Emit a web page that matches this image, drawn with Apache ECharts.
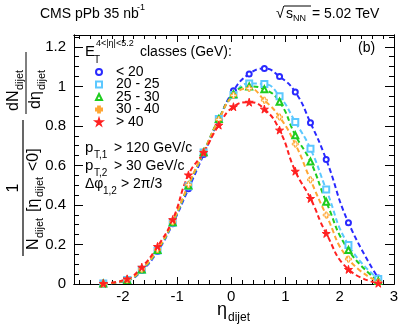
<!DOCTYPE html>
<html>
<head>
<meta charset="utf-8">
<script src="https://cdn.jsdelivr.net/npm/echarts@6/dist/echarts.min.js"></script>
<style>
  html, body { margin: 0; padding: 0; background: #fff; }
  #chart { width: 407px; height: 335px; }
</style>
</head>
<body>
<div id="chart"></div>
<script>
// eta_dijet bin positions
var etaBins = [-2.36, -1.92, -1.65, -1.36, -1.08, -0.79, -0.51, -0.23, 0.04, 0.33, 0.61, 0.89, 1.18, 1.46, 1.75, 2.16, 2.71];
// normalised dN/deta per E_T(4<|eta|<5.2) class
var etLt20 = [0.002, 0.018, 0.068, 0.165, 0.305, 0.482, 0.655, 0.832, 0.978, 1.063, 1.09, 1.05, 0.971, 0.816, 0.63, 0.31, 0.03];
var et20to25 = [0.002, 0.02, 0.072, 0.17, 0.31, 0.495, 0.665, 0.835, 0.956, 1.015, 1.012, 0.95, 0.82, 0.684, 0.478, 0.197, 0.025];
var et25to30 = [0.002, 0.02, 0.073, 0.172, 0.312, 0.498, 0.667, 0.835, 0.96, 1.0, 0.985, 0.922, 0.753, 0.62, 0.416, 0.172, 0.015];
var et30to40 = [0.002, 0.021, 0.075, 0.175, 0.315, 0.502, 0.668, 0.832, 0.955, 0.99, 0.93, 0.845, 0.708, 0.527, 0.349, 0.126, 0.01];
var etGt40 = [0.003, 0.026, 0.085, 0.19, 0.326, 0.552, 0.666, 0.804, 0.897, 0.92, 0.885, 0.779, 0.571, 0.433, 0.256, 0.074, 0.004];
var classNames = ['< 20', '20 - 25', '25 - 30', '30 - 40', '> 40'];

// tick positions
var xMajor = [-2, -1, 0, 1, 2, 3];
var xMinor = [-2.8, -2.6, -2.4, -2.2, -1.8, -1.6, -1.4, -1.2, -0.8, -0.6, -0.4, -0.2, 0.2, 0.4, 0.6, 0.8, 1.2, 1.4, 1.6, 1.8, 2.2, 2.4, 2.6, 2.8];
var yMajor = [0, 0.2, 0.4, 0.6, 0.8, 1, 1.2];
var yMinor = [0.05, 0.1, 0.15, 0.25, 0.3, 0.35, 0.45, 0.5, 0.55, 0.65, 0.7, 0.75, 0.85, 0.9, 0.95, 1.05, 1.1, 1.15, 1.25];

var FONT = '"Liberation Sans", Arial, Helvetica, sans-serif';
var starPath = 'path://M50,0 L61,35 L98,35 L68,57 L79,91 L50,70 L21,91 L32,57 L2,35 L39,35 Z';
var crossPath = 'path://M35,0 L65,0 L65,35 L100,35 L100,65 L65,65 L65,100 L35,100 L35,65 L0,65 L0,35 L35,35 Z';

var chart = echarts.init(document.getElementById('chart'), null, { renderer: 'canvas' });

function pairs(vals) {
  return etaBins.map(function (x, i) { return [x, vals[i]]; });
}

function xAxisDef(pos, ticks, len, withLabels) {
  return {
    type: 'value', min: -2.9, max: 3, position: pos,
    axisLine: { show: true, onZero: false, lineStyle: { color: '#000', width: 1 } },
    axisTick: { show: true, inside: true, length: len, customValues: ticks, lineStyle: { color: '#000', width: 1 } },
    axisLabel: { show: withLabels, customValues: ticks, margin: 5, fontSize: 15, color: '#000', fontFamily: FONT },
    splitLine: { show: false }
  };
}
function yAxisDef(pos, ticks, len, withLabels) {
  return {
    type: 'value', min: 0, max: 1.26, position: pos,
    axisLine: { show: true, onZero: false, lineStyle: { color: '#000', width: 1 } },
    axisTick: { show: true, inside: true, length: len, customValues: ticks, lineStyle: { color: '#000', width: 1 } },
    axisLabel: { show: withLabels, customValues: ticks, margin: 8, fontSize: 15, color: '#000', fontFamily: FONT },
    splitLine: { show: false }
  };
}

function lineSeries(name, vals, color, symbol, size, fill) {
  return {
    name: name, type: 'line', data: pairs(vals),
    smooth: 0.5,
    symbol: symbol, symbolSize: size,
    itemStyle: { color: fill || color, borderColor: color, borderWidth: 1 },
    lineStyle: { color: color, width: 2, type: [5, 3] },
    emphasis: { disabled: true },
    animation: false
  };
}

chart.setOption({
  animation: false,
  grid: { left: 74, top: 35, width: 320, height: 249 },
  xAxis: [
    xAxisDef('bottom', xMajor, 7, true),
    xAxisDef('bottom', xMinor, 4, false),
    xAxisDef('top', xMajor, 7, false),
    xAxisDef('top', xMinor, 4, false)
  ],
  yAxis: [
    yAxisDef('left', yMajor, 9, true),
    yAxisDef('left', yMinor, 5, false),
    yAxisDef('right', yMajor, 9, false),
    yAxisDef('right', yMinor, 5, false)
  ],
  legend: {
    orient: 'vertical', left: 95, top: 65, padding: 0,
    itemWidth: 6, itemHeight: 6, itemGap: -1.5,
    textStyle: { fontSize: 14, lineHeight: 12, color: '#000', fontFamily: FONT, padding: [0, 0, 0, 9] },
    data: [
      { name: classNames[0], icon: 'emptyCircle' },
      { name: classNames[1], icon: 'emptyRect' },
      { name: classNames[2], icon: 'emptyTriangle' },
      { name: classNames[3], icon: crossPath },
      { name: classNames[4], icon: starPath }
    ]
  },
  series: [
    lineSeries(classNames[0], etLt20, '#2a2aff', 'emptyCircle', 5),
    lineSeries(classNames[1], et20to25, '#5cc8ff', 'emptyRect', 6),
    lineSeries(classNames[2], et25to30, '#1fcc1f', 'emptyTriangle', 6),
    lineSeries(classNames[3], et30to40, '#ffa633', crossPath, 6, '#fff'),
    lineSeries(classNames[4], etGt40, '#ff2020', starPath, 8)
  ],
  graphic: [
    // header
    { type: 'text', x: 40, y: 14, style: { text: 'CMS pPb 35 nb', font: '14px ' + FONT, fill: '#000', verticalAlign: 'middle' } },
    { type: 'text', x: 137, y: 8, style: { text: '-1', font: '9px ' + FONT, fill: '#000', verticalAlign: 'middle' } },
    { type: 'text', x: 276, y: 14, style: { text: '√', font: '15px ' + FONT, fill: '#000', verticalAlign: 'middle' } },
    { type: 'line', shape: { x1: 284, y1: 6, x2: 311, y2: 6 }, style: { stroke: '#000', lineWidth: 1 } },
    { type: 'text', x: 286, y: 14, style: { text: 's', font: '14px ' + FONT, fill: '#000', verticalAlign: 'middle' } },
    { type: 'text', x: 293, y: 19, style: { text: 'NN', font: '9px ' + FONT, fill: '#000', verticalAlign: 'middle' } },
    { type: 'text', x: 312, y: 14, style: { text: '= 5.02 TeV', font: '14px ' + FONT, fill: '#000', verticalAlign: 'middle' } },
    // legend header
    { type: 'text', x: 85, y: 52, style: { text: 'E', font: '15px ' + FONT, fill: '#000', verticalAlign: 'middle' } },
    { type: 'text', x: 94, y: 60, style: { text: 'T', font: '10px ' + FONT, fill: '#000', verticalAlign: 'middle' } },
    { type: 'text', x: 96, y: 44, style: { text: '4<|η|<5.2', font: '9px ' + FONT, fill: '#000', verticalAlign: 'middle' } },
    { type: 'text', x: 140, y: 52, style: { text: 'classes (GeV):', font: '14px ' + FONT, fill: '#000', verticalAlign: 'middle' } },
    // panel tag
    { type: 'text', x: 358, y: 48, style: { text: '(b)', font: '14px ' + FONT, fill: '#000', verticalAlign: 'middle' } },
    // cuts
    { type: 'text', x: 85, y: 148, style: { text: 'p', font: '15px ' + FONT, fill: '#000', verticalAlign: 'middle' } },
    { type: 'text', x: 94, y: 155, style: { text: 'T,1', font: '10px ' + FONT, fill: '#000', verticalAlign: 'middle' } },
    { type: 'text', x: 114, y: 148, style: { text: '> 120 GeV/c', font: '14px ' + FONT, fill: '#000', verticalAlign: 'middle' } },
    { type: 'text', x: 85, y: 166, style: { text: 'p', font: '15px ' + FONT, fill: '#000', verticalAlign: 'middle' } },
    { type: 'text', x: 94, y: 173, style: { text: 'T,2', font: '10px ' + FONT, fill: '#000', verticalAlign: 'middle' } },
    { type: 'text', x: 114, y: 166, style: { text: '> 30 GeV/c', font: '14px ' + FONT, fill: '#000', verticalAlign: 'middle' } },
    { type: 'text', x: 85, y: 184, style: { text: 'Δφ', font: '14px ' + FONT, fill: '#000', verticalAlign: 'middle' } },
    { type: 'text', x: 103, y: 191, style: { text: '1,2', font: '10px ' + FONT, fill: '#000', verticalAlign: 'middle' } },
    { type: 'text', x: 121, y: 184, style: { text: '> 2π/3', font: '14px ' + FONT, fill: '#000', verticalAlign: 'middle' } },
    // x title
    { type: 'text', x: 217, y: 310, style: { text: 'η', font: '18px ' + FONT, fill: '#000', verticalAlign: 'middle' } },
    { type: 'text', x: 228, y: 318, style: { text: 'dijet', font: '12px ' + FONT, fill: '#000', verticalAlign: 'middle' } },
    // y title, drawn horizontally and turned upright
    {
      type: 'group', x: 23, y: 256, rotation: Math.PI / 2,
      children: [
        { type: 'line', shape: { x1: 0, y1: 0, x2: 136, y2: 0 }, style: { stroke: '#000', lineWidth: 1.2 } },
        { type: 'text', x: 68, y: -9, style: { text: '1', font: '16px ' + FONT, fill: '#000', align: 'center', verticalAlign: 'middle' } },
        { type: 'text', x: 6, y: 11, style: { text: 'N', font: '16px ' + FONT, fill: '#000', verticalAlign: 'middle' } },
        { type: 'text', x: 18, y: 17, style: { text: 'dijet', font: '11px ' + FONT, fill: '#000', verticalAlign: 'middle' } },
        { type: 'text', x: 44, y: 11, style: { text: '[η', font: '16px ' + FONT, fill: '#000', verticalAlign: 'middle' } },
        { type: 'text', x: 59, y: 17, style: { text: 'dijet', font: '11px ' + FONT, fill: '#000', verticalAlign: 'middle' } },
        { type: 'text', x: 85, y: 11, style: { text: '<0]', font: '16px ' + FONT, fill: '#000', verticalAlign: 'middle' } },
        { type: 'line', shape: { x1: 142, y1: 3, x2: 204, y2: 3 }, style: { stroke: '#000', lineWidth: 1 } },
        { type: 'text', x: 145, y: -9, style: { text: 'dN', font: '16px ' + FONT, fill: '#000', verticalAlign: 'middle' } },
        { type: 'text', x: 166, y: -3, style: { text: 'dijet', font: '11px ' + FONT, fill: '#000', verticalAlign: 'middle' } },
        { type: 'text', x: 147, y: 13, style: { text: 'dη', font: '16px ' + FONT, fill: '#000', verticalAlign: 'middle' } },
        { type: 'text', x: 166, y: 19, style: { text: 'dijet', font: '11px ' + FONT, fill: '#000', verticalAlign: 'middle' } }
      ]
    }
  ]
});
</script>
</body>
</html>
